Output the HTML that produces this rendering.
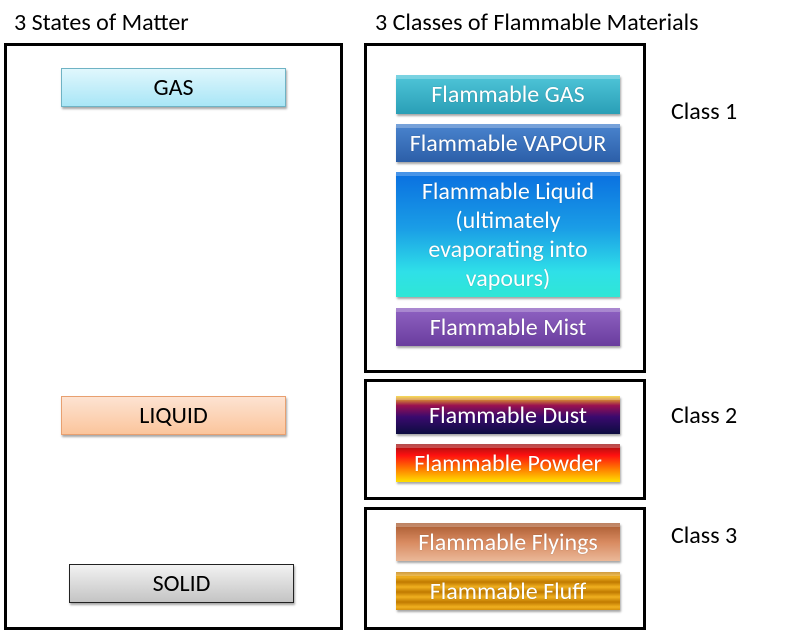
<!DOCTYPE html>
<html><head><meta charset="utf-8"><style>
*{margin:0;padding:0;box-sizing:border-box}
body{width:806px;height:631px;background:#fff;position:relative;overflow:hidden;font-family:Calibri,Carlito,"Liberation Sans",sans-serif}
.frame{position:absolute;border:3px solid #000}
.t{position:absolute;font-size:24px;color:#000;white-space:nowrap;line-height:24px}
.n{position:absolute;display:flex;align-items:center;justify-content:center;text-align:center;font-size:24px;box-shadow:1px 2px 2px rgba(0,0,0,.35);white-space:nowrap}
.w{color:#fff;line-height:29px;text-shadow:0 0 1px rgba(0,0,0,.3)}
.w:before{content:"";position:absolute;left:0;right:0;top:0;height:4px;background:rgba(255,255,255,.25)}
</style></head><body>
<div class="t" style="left:14px;top:11px">3 States of Matter</div>
<div class="t" style="left:375px;top:11px">3 Classes of Flammable Materials</div>
<div class="frame" style="left:4px;top:43px;width:339px;height:587px"></div>
<div class="frame" style="left:364px;top:43px;width:282px;height:330px"></div>
<div class="frame" style="left:364px;top:379px;width:282px;height:121px"></div>
<div class="frame" style="left:364px;top:507px;width:282px;height:123px"></div>

<div class="n" style="left:61px;top:68px;width:225px;height:39px;border:1px solid #6fb3c4;background:linear-gradient(#e0f7fd,#a9e6f6)">GAS</div>
<div class="n" style="left:61px;top:396px;width:225px;height:39px;border:1px solid #e8a070;background:linear-gradient(#fde3d2,#fbc59c)">LIQUID</div>
<div class="n" style="left:69px;top:564px;width:225px;height:39px;border:1px solid #222;background:linear-gradient(#f2f2f2,#c4c4c4)">SOLID</div>

<div class="n w" style="left:396px;top:75px;width:224px;height:39px;background:linear-gradient(#4fc6d9,#2a9fb6)">Flammable GAS</div>
<div class="n w" style="left:396px;top:124px;width:224px;height:38px;background:linear-gradient(#4a84cf,#2c5fa8)">Flammable VAPOUR</div>
<div class="n w" style="left:396px;top:172px;width:224px;height:125px;background:linear-gradient(#0a6fe0 0%,#1a9de6 45%,#2fe0e8 80%,#2fe6d6 100%)">Flammable Liquid<br>(ultimately<br>evaporating into<br>vapours)</div>
<div class="n w" style="left:396px;top:308px;width:224px;height:38px;background:linear-gradient(#8f62c2,#6a3d9e)">Flammable Mist</div>

<div class="n w" style="left:396px;top:396px;width:224px;height:38px;background:linear-gradient(#f5d020 0%,#9a1050 25%,#3a0a6e 55%,#0c0c40 100%)">Flammable Dust</div>
<div class="n w" style="left:396px;top:444px;width:224px;height:38px;background:linear-gradient(#9a1010 0%,#ff1010 30%,#ff7a00 65%,#ffe000 100%)">Flammable Powder</div>

<div class="n w" style="left:396px;top:523px;width:224px;height:38px;background:linear-gradient(#a85a30,#d88a60 50%,#eab898)">Flammable Flyings</div>
<div class="n w" style="left:396px;top:572px;width:224px;height:38px;background:repeating-linear-gradient(#c07a00 0px,#f0b020 5px,#c07a00 10px)">Flammable Fluff</div>

<div class="t" style="left:671px;top:100px">Class 1</div>
<div class="t" style="left:671px;top:404px">Class 2</div>
<div class="t" style="left:671px;top:524px">Class 3</div>
</body></html>
